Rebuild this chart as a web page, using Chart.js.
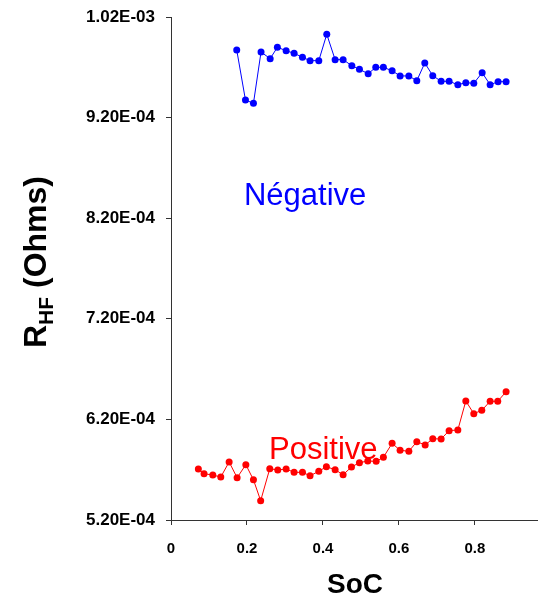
<!DOCTYPE html>
<html>
<head>
  <title>RHF vs SoC</title>
  <script src="https://cdn.jsdelivr.net/npm/chart.js@4.4.0/dist/chart.umd.min.js"></script>
  <style>
    body { margin: 0; background: #fff; }
  </style>
</head>
<body>
  <canvas id="rhfChart" width="538" height="598"></canvas>

  <script>
    // Négative electrode
    const socNeg = [0.173, 0.196, 0.217, 0.237, 0.261, 0.280, 0.303, 0.324, 0.346, 0.366, 0.389,
      0.410, 0.432, 0.453, 0.476, 0.496, 0.519, 0.539, 0.559, 0.582, 0.603, 0.626, 0.647,
      0.668, 0.689, 0.711, 0.732, 0.755, 0.776, 0.797, 0.819, 0.840, 0.861, 0.882];
    const rhfNeg = [9.872e-4, 9.375e-4, 9.342e-4, 9.852e-4, 9.786e-4, 9.899e-4, 9.865e-4, 9.839e-4, 9.800e-4, 9.766e-4, 9.766e-4,
      1.0028e-3, 9.776e-4, 9.776e-4, 9.716e-4, 9.680e-4, 9.636e-4, 9.700e-4, 9.700e-4, 9.666e-4, 9.614e-4, 9.614e-4, 9.567e-4,
      9.743e-4, 9.617e-4, 9.561e-4, 9.561e-4, 9.527e-4, 9.547e-4, 9.541e-4, 9.646e-4, 9.527e-4, 9.557e-4, 9.557e-4];

    // Positive electrode
    const socPos = [0.072, 0.087, 0.110, 0.131, 0.153, 0.174, 0.197, 0.217, 0.236, 0.260, 0.281,
      0.303, 0.324, 0.346, 0.366, 0.389, 0.409, 0.432, 0.453, 0.475, 0.496, 0.518, 0.540,
      0.559, 0.582, 0.603, 0.626, 0.647, 0.669, 0.689, 0.711, 0.732, 0.755, 0.776, 0.797,
      0.818, 0.840, 0.860, 0.882];
    const rhfPos = [5.707e-4, 5.660e-4, 5.647e-4, 5.627e-4, 5.777e-4, 5.620e-4, 5.750e-4, 5.600e-4, 5.392e-4, 5.710e-4, 5.697e-4,
      5.707e-4, 5.674e-4, 5.674e-4, 5.640e-4, 5.684e-4, 5.730e-4, 5.700e-4, 5.650e-4, 5.727e-4, 5.770e-4, 5.786e-4, 5.783e-4,
      5.823e-4, 5.962e-4, 5.893e-4, 5.883e-4, 5.978e-4, 5.946e-4, 6.008e-4, 6.005e-4, 6.088e-4, 6.095e-4, 6.383e-4, 6.257e-4,
      6.290e-4, 6.380e-4, 6.380e-4, 6.475e-4];

    const xTicks = [0, 0.2, 0.4, 0.6, 0.8];
    const yTicks = [5.2e-4, 6.2e-4, 7.2e-4, 8.2e-4, 9.2e-4, 1.02e-3];

    // in-plot labels, in data units (left edge, baseline)
    const seriesLabels = [
      { text: 'Négative', x: 0.192, y: 8.331e-4, color: '#0000ff' },
      { text: 'Positive', x: 0.258, y: 5.806e-4, color: '#ff0000' }
    ];

    const FONT = '"Liberation Sans", Arial, sans-serif';
    const AXIS = '#333';

    function toPoints(xs, ys) {
      return xs.map((x, i) => ({ x: x, y: ys[i] }));
    }

    // 5.20E-04 style labels
    function sci(v) {
      const [m, e] = v.toExponential(2).split('e');
      const n = parseInt(e, 10);
      const ee = (n < 0 ? '-' : '+') + String(Math.abs(n)).padStart(2, '0');
      return m + 'E' + ee;
    }

    const extras = {
      id: 'extras',
      afterDraw(chart) {
        const ctx = chart.ctx;
        const xs = chart.scales.x, ys = chart.scales.y;
        ctx.save();
        ctx.textBaseline = 'alphabetic';
        ctx.textAlign = 'left';
        seriesLabels.forEach(l => {
          ctx.font = '31px ' + FONT;
          ctx.fillStyle = l.color;
          ctx.fillText(l.text, xs.getPixelForValue(l.x), ys.getPixelForValue(l.y));
        });

        // x title
        ctx.fillStyle = '#000';
        ctx.font = 'bold 28px ' + FONT;
        ctx.textAlign = 'center';
        ctx.fillText('SoC', 355, 593);

        // y title with subscript
        ctx.translate(46, 262);
        ctx.rotate(-Math.PI / 2);
        const big = 'bold 32px ' + FONT, small = 'bold 21px ' + FONT;
        ctx.font = big;
        const wR = ctx.measureText('R').width;
        const wRest = ctx.measureText(' (Ohms)').width;
        ctx.font = small;
        const wSub = ctx.measureText('HF').width;
        let x0 = -(wR + wSub + wRest) / 2;
        ctx.textAlign = 'left';
        ctx.font = big;
        ctx.fillText('R', x0, 0);
        ctx.font = small;
        ctx.fillText('HF', x0 + wR, 7);
        ctx.font = big;
        ctx.fillText(' (Ohms)', x0 + wR + wSub, 0);
        ctx.restore();
      }
    };

    const ctx = document.getElementById('rhfChart').getContext('2d');
    new Chart(ctx, {
      type: 'scatter',
      data: {
        datasets: [
          {
            label: 'Négative',
            data: toPoints(socNeg, rhfNeg),
            showLine: true,
            borderColor: '#0000ff',
            backgroundColor: '#0000ff',
            borderWidth: 1,
            pointRadius: 3.5,
            pointBorderWidth: 0
          },
          {
            label: 'Positive',
            data: toPoints(socPos, rhfPos),
            showLine: true,
            borderColor: '#ff0000',
            backgroundColor: '#ff0000',
            borderWidth: 1,
            pointRadius: 3.5,
            pointBorderWidth: 0
          }
        ]
      },
      options: {
        responsive: false,
        animation: false,
        layout: { autoPadding: false, padding: { top: 17, left: 0, right: 0, bottom: 0 } },
        plugins: {
          legend: { display: false },
          tooltip: { enabled: false }
        },
        scales: {
          x: {
            type: 'linear',
            min: 0,
            max: 0.966,
            afterFit: s => { s.height = 78; },
            afterBuildTicks: s => { s.ticks = xTicks.map(v => ({ value: v })); },
            ticks: {
              padding: 15,
              color: '#000',
              font: { family: FONT, size: 15, weight: 'bold' },
              callback: v => String(v)
            },
            grid: { drawOnChartArea: false, tickLength: 5, color: AXIS },
            border: { display: true, color: AXIS, width: 1 }
          },
          y: {
            type: 'linear',
            min: 5.2e-4,
            max: 1.02e-3,
            afterFit: s => { s.width = 171; },
            afterBuildTicks: s => { s.ticks = yTicks.map(v => ({ value: v })); },
            ticks: {
              padding: 11,
              color: '#000',
              font: { family: FONT, size: 17, weight: 'bold', lineHeight: 0.5 },
              callback: v => sci(v)
            },
            grid: { drawOnChartArea: false, tickLength: 5, color: AXIS },
            border: { display: true, color: AXIS, width: 1 }
          }
        }
      },
      plugins: [extras]
    });
  </script>
</body>
</html>
